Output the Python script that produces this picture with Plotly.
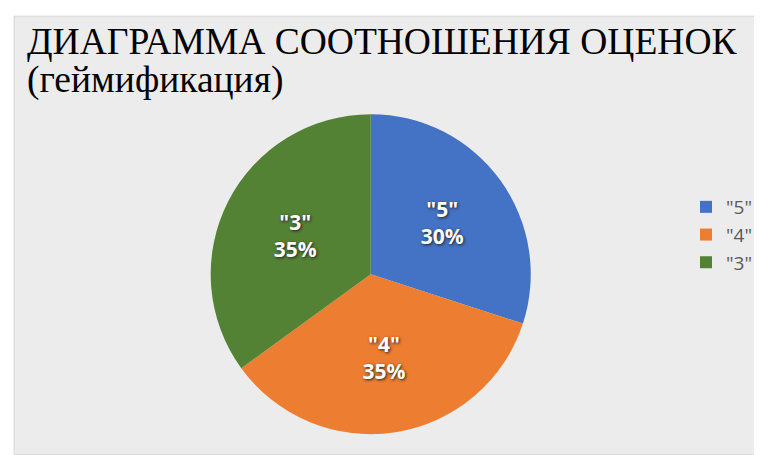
import plotly.graph_objects as go

categories = ['"5"', '"4"', '"3"']
values = [30, 35, 35]
colors = ["#4472C4", "#ED7D31", "#548235"]
title_line1 = "ДИАГРАММА СООТНОШЕНИЯ ОЦЕНОК"
title_line2 = "(геймификация)"

fig = go.Figure()
fig.add_trace(go.Pie(
    labels=categories,
    values=values,
    sort=False,
    direction="clockwise",
    rotation=0,
    marker=dict(colors=colors, line=dict(width=0)),
    texttemplate="%{label}<br>%{percent:.0%}",
    textposition="inside",
    insidetextorientation="horizontal",
    textfont=dict(family="Open Sans", size=21, color="white", weight="bold",
                  shadow="1px 1px 3px #222222"),
    domain=dict(x=[0.266, 0.686], y=[0.055, 0.775]),
    hoverinfo="label+percent",
))

fig.add_shape(type="rect", xref="paper", yref="paper", x0=0.008, x1=0.992, y0=0.018, y1=0.982,
              fillcolor="#ececec", line=dict(color="#d6d6d6", width=1), layer="below")

fig.add_annotation(text=title_line1, xref="paper", yref="paper", x=18/762, y=1 - 55/455,
                   xanchor="left", yanchor="bottom", showarrow=False, borderpad=0,
                   font=dict(family="Liberation Serif", size=37.5, color="#000000"))
fig.add_annotation(text=title_line2, xref="paper", yref="paper", x=18/762, y=1 - 94/455,
                   xanchor="left", yanchor="bottom", showarrow=False, borderpad=0,
                   font=dict(family="Liberation Serif", size=37.5, color="#000000"))

fig.update_layout(
    width=762, height=455,
    margin=dict(l=0, r=0, t=0, b=0),
    paper_bgcolor="white",
    showlegend=True,
    legend=dict(x=750/762, y=1 - 180/455, xanchor="right", yanchor="top",
                font=dict(family="Open Sans", size=19, color="#595959"),
                bgcolor="rgba(0,0,0,0)", itemsizing="constant"),
)

fig.write_html("out.html")
